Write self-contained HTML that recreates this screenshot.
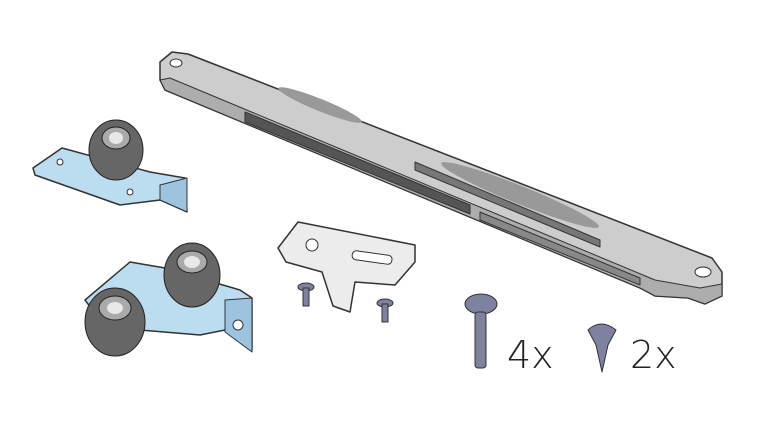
<!DOCTYPE html>
<html><head><style>
html,body{margin:0;padding:0;background:#fff;width:769px;height:429px;overflow:hidden}
</style></head><body>
<svg width="769" height="429" viewBox="0 0 769 429" xmlns="http://www.w3.org/2000/svg" stroke-linejoin="round">
<!-- rail -->
<polygon points="160,62 172,52 188,54 712,258 722,272 722,296 705,304 688,298 655,296 640,288 165,90 160,80" fill="#cdcdcd" stroke="#333" stroke-width="1.5"/>
<polygon points="165,90 640,288 655,296 688,298 705,304 722,296 722,284 700,288 655,280 170,78 160,80" fill="#adadad" stroke="#333" stroke-width="1"/>
<polygon points="245,112 470,205 470,214 245,122" fill="#555" stroke="#333" stroke-width="1"/>
<polygon points="415,162 600,240 600,247 415,170" fill="#777" stroke="#333" stroke-width="1"/>
<polygon points="480,212 640,278 640,285 480,220" fill="#888" stroke="#333" stroke-width="1"/>
<g fill="#999">
<ellipse cx="320" cy="105" rx="45" ry="6" transform="rotate(22 320 105)"/>
<ellipse cx="520" cy="195" rx="85" ry="9" transform="rotate(22 520 195)"/>
</g>
<ellipse cx="176" cy="63" rx="6" ry="4" fill="#fff" stroke="#333"/>
<ellipse cx="703" cy="272" rx="8" ry="5" fill="#fff" stroke="#333"/>
<!-- bracket 1 -->
<polygon points="33,168 62,148 150,172 185,178 187,212 160,200 120,205 35,175" fill="#bcdcf0" stroke="#333" stroke-width="1.5"/>
<polygon points="160,185 187,178 187,212 160,200" fill="#9cc4e0" stroke="#333"/>
<ellipse cx="116" cy="150" rx="27" ry="30" fill="#666" stroke="#222"/>
<ellipse cx="116" cy="138" rx="14" ry="11" fill="#aaa" stroke="#222"/>
<ellipse cx="116" cy="138" rx="7" ry="6" fill="#e8e8e8"/>
<circle cx="60" cy="162" r="3" fill="#fff" stroke="#333"/>
<circle cx="130" cy="192" r="3" fill="#fff" stroke="#333"/>
<!-- bracket 2 -->
<polygon points="85,300 130,262 165,268 240,290 252,298 252,350 225,330 200,335 140,330 100,320" fill="#bcdcf0" stroke="#333" stroke-width="1.5"/>
<polygon points="225,300 252,298 252,352 225,332" fill="#9cc4e0" stroke="#333"/>
<circle cx="238" cy="325" r="5" fill="#fff" stroke="#333"/>
<ellipse cx="192" cy="275" rx="28" ry="32" fill="#666" stroke="#222"/>
<ellipse cx="192" cy="262" rx="15" ry="11" fill="#aaa" stroke="#222"/>
<ellipse cx="192" cy="262" rx="8" ry="6" fill="#e8e8e8"/>
<ellipse cx="115" cy="322" rx="30" ry="34" fill="#666" stroke="#222"/>
<ellipse cx="115" cy="308" rx="16" ry="12" fill="#aaa" stroke="#222"/>
<ellipse cx="115" cy="308" rx="8" ry="6" fill="#e8e8e8"/>
<!-- plate -->
<polygon points="278,248 298,222 415,245 415,262 395,285 355,282 350,312 333,306 322,272 286,262" fill="#ececec" stroke="#333" stroke-width="1.5"/>
<circle cx="312" cy="245" r="6" fill="#fff" stroke="#333"/>
<rect x="352" y="253" width="40" height="9" rx="4" fill="#fff" stroke="#333" transform="rotate(8 372 258)"/>
<g fill="#7d82a0" stroke="#333">
<ellipse cx="306" cy="287" rx="8" ry="4"/><rect x="303" y="288" width="6" height="18"/>
<ellipse cx="385" cy="303" rx="8" ry="4"/><rect x="382" y="304" width="6" height="18"/>
<ellipse cx="481" cy="304" rx="16" ry="10"/>
<rect x="475" y="312" width="11" height="56" rx="3"/>
<path d="M588,330 Q601,318 616,330 L608,345 L602,372 L596,345 Z"/>
</g>
<text x="507" y="368" font-family="DejaVu Sans ExtraLight, DejaVu Sans, sans-serif" font-weight="200" font-size="38" fill="#222">4x</text>
<text x="630" y="368" font-family="DejaVu Sans ExtraLight, DejaVu Sans, sans-serif" font-weight="200" font-size="38" fill="#222">2x</text>
</svg>
</body></html>
